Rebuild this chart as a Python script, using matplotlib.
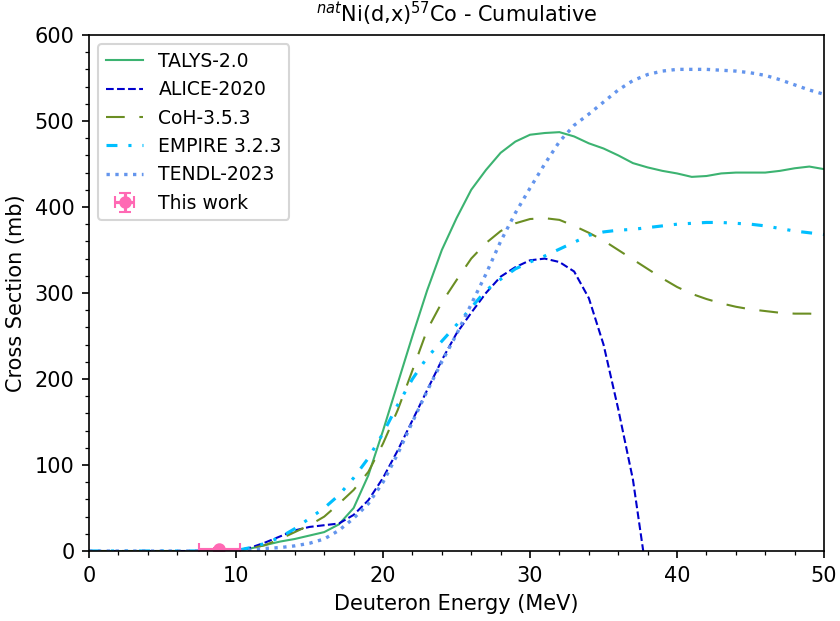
import numpy as np
import matplotlib
matplotlib.use('Agg')
import matplotlib.pyplot as plt
from matplotlib.ticker import MultipleLocator

# energies (MeV)
e_grid = [0, 2, 4, 6, 8, 10, 11, 12, 13, 14, 15, 16, 17, 18, 19, 20, 21, 22, 23, 24, 25,
          26, 27, 28, 29, 30, 31, 32, 33, 34, 35, 36, 37, 38, 39, 40, 41, 42, 43, 44,
          45, 46, 47, 48, 49, 50]

talys = [0, 0, 0, 0, 0, 0.5, 3, 7, 11, 14, 18, 22, 31, 50, 88, 140, 195, 250, 303, 350, 387,
         420, 443, 463, 476, 484, 486, 487, 482, 474, 468, 460, 451, 446, 442, 439, 435,
         436, 439, 440, 440, 440, 442, 445, 447, 444]

coh = [0, 0, 0, 0, 0, 0.5, 3, 7, 14, 22, 30, 40, 55, 71, 92, 125, 164, 210, 257, 289, 315,
       340, 358, 372, 381, 386, 387, 385, 378, 370, 361, 350, 339, 328, 317, 307, 299,
       293, 288, 284, 281, 279, 277, 276, 276, 275]

empire = [0, 0, 0, 0, 0, 0.5, 4, 9, 16, 26, 38, 50, 65, 85, 108, 137, 170, 200, 225, 244,
          263, 283, 303, 316, 328, 336, 343, 351, 359, 367, 371, 373, 374, 376, 378, 380,
          381, 382, 382, 381, 380, 378, 375, 372, 370, 368]

tendl = [0, 0, 0, 0, 0, 0.5, 1, 3, 4, 6, 9, 14, 24, 38, 55, 80, 113, 150, 186, 220, 252,
         287, 322, 360, 393, 422, 450, 476, 495, 508, 522, 536, 547, 554, 558, 560, 560,
         560, 559, 558, 556, 553, 548, 542, 536, 531]

# ALICE stops where it reaches zero
e_alice = [0, 2, 4, 6, 8, 10, 11, 12, 13, 14, 15, 16, 17, 18, 19, 20, 21, 22, 23, 24, 25,
           26, 27, 28, 29, 30, 31, 32, 33, 34, 35, 36, 37, 37.7]
alice = [0, 0, 0, 0, 0, 0.5, 4, 10, 17, 24, 28, 30, 32, 42, 59, 85, 117, 152, 187, 222, 253,
         277, 300, 319, 330, 338, 340, 336, 325, 294, 240, 165, 83, 0]

# measured point
exp_e = [8.85]
exp_de = [1.4]
exp_xs = [2.0]
exp_dxs = [1.5]

fig = plt.figure(figsize=(5.6, 4.14), dpi=150)
ax = fig.add_axes([0.106, 0.1127, 0.875, 0.831])

ax.plot(e_grid, talys, color='mediumseagreen', lw=1, label='TALYS-2.0')
ax.plot(e_alice, alice, color='mediumblue', lw=1, ls='--', label='ALICE-2020')
ax.plot(e_grid, coh, color='olivedrab', lw=1, ls=(0, (9, 7)), label='CoH-3.5.3')
ax.plot(e_grid, empire, color='deepskyblue', lw=1.5,
        ls=(0, (3.5, 3.5, 1, 3.5, 1, 3.5)), label='EMPIRE 3.2.3')
ax.plot(e_grid, tendl, color='cornflowerblue', lw=1.6, ls=':', label='TENDL-2023')
ax.errorbar(exp_e, exp_xs, xerr=exp_de, yerr=exp_dxs, fmt='o', color='hotpink',
            ms=5, capsize=3, elinewidth=1.5, label='This work')

ax.set_xlim(0, 50)
ax.set_ylim(0, 600)
ax.xaxis.set_minor_locator(MultipleLocator(2))
ax.yaxis.set_minor_locator(MultipleLocator(20))
ax.set_xlabel('Deuteron Energy (MeV)')
ax.set_ylabel('Cross Section (mb)')
ax.set_title(r'$^{nat}$Ni(d,x)$^{57}$Co - Cumulative', fontsize=10)
ax.legend(loc='upper left', fontsize=9)

fig.savefig('out.png', dpi=150)
